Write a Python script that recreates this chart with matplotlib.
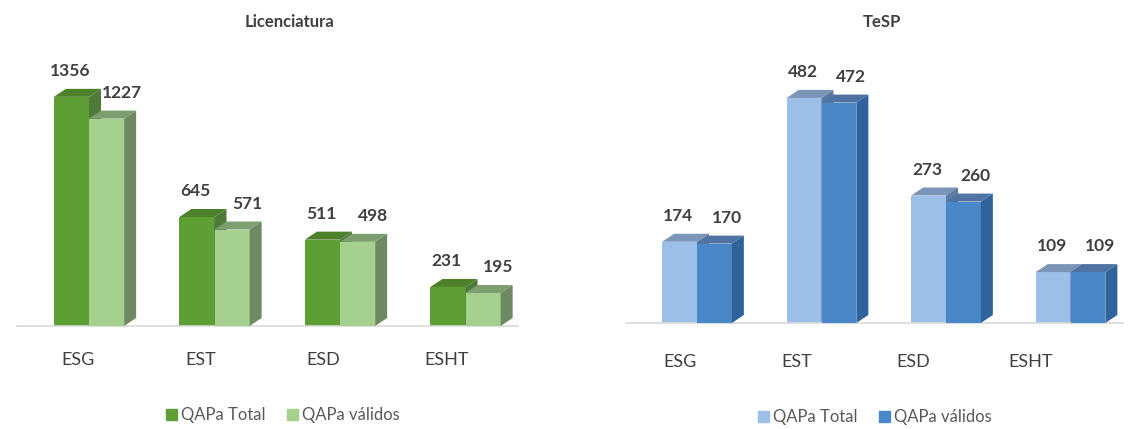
import matplotlib.pyplot as plt
from matplotlib.patches import Polygon
import numpy as np

plt.rcParams['font.family'] = ['Lato', 'DejaVu Sans']

schools = ['ESG', 'EST', 'ESD', 'ESHT']
series_names = ['QAPa Total', 'QAPa válidos']

lic_total = [1356, 645, 511, 231]
lic_validos = [1227, 571, 498, 195]
tesp_total = [174, 482, 273, 109]
tesp_validos = [170, 472, 260, 109]

W, H = 1140, 429
fig = plt.figure(figsize=(W / 100, H / 100), dpi=100)

BAR_W = 0.28
DEPTH_PX = (12, 8)  # side face width, top face rise, in pixels


def draw_3d_bars(ax, values_list, colors, px_per_unit_x, px_per_unit_y):
  dx = DEPTH_PX[0] / px_per_unit_x
  dy = DEPTH_PX[1] / px_per_unit_y
  x = np.arange(len(schools))
  for k, (vals, (front, top, side)) in enumerate(zip(values_list, colors)):
    xs = x + (k - 0.5) * BAR_W
    ax.bar(xs, vals, width=BAR_W, color=front, edgecolor='none', zorder=2 + k)
    for c, h in zip(xs, vals):
      l, r = c - BAR_W / 2, c + BAR_W / 2
      ax.add_patch(Polygon([(l, h), (r, h), (r + dx, h + dy), (l + dx, h + dy)],
                           closed=True, facecolor=top, edgecolor='none', zorder=2 + k))
      ax.add_patch(Polygon([(r, 0), (r + dx, dy), (r + dx, h + dy), (r, h)],
                           closed=True, facecolor=side, edgecolor='none', zorder=2 + k))
  return x


def setup_panel(center0_px, unit_x, base_px, unit_y, values_list, colors,
                title, title_x, legend_x, cat_top, legend_y, label_dx, tick_fix):
  xlim = (-0.6, 3.45)
  ax_left = center0_px + xlim[0] * unit_x
  ax_w = (xlim[1] - xlim[0]) * unit_x
  top_px = 60
  ax = fig.add_axes([ax_left / W, 1 - base_px / H, ax_w / W, (base_px - top_px) / H])
  ax.set_xlim(*xlim)
  ax.set_ylim(0, (base_px - top_px) / unit_y)
  x = draw_3d_bars(ax, values_list, colors, unit_x, unit_y)
  for s in ['top', 'right', 'left']:
    ax.spines[s].set_visible(False)
  ax.spines['bottom'].set_color('#d9d9d9')
  ax.spines['bottom'].set_linewidth(1.2)
  ax.spines['bottom'].set_bounds(xlim[0] + 0.03, xlim[1] - 0.03)
  ax.set_yticks([])
  # category labels sit slightly left of the bars (perspective of the 3D chart)
  ax.set_xticks(x * tick_fix[0] + tick_fix[1])
  ax.set_xticklabels(schools, fontsize=13, color='#404040')
  ax.tick_params(axis='x', length=0, pad=(cat_top - base_px) * 0.72)
  for k, vals in enumerate(values_list):
    for xi, v in zip(x, vals):
      ax.annotate(str(v), (xi + (k - 0.5) * BAR_W + label_dx[k], v),
                  xytext=(0, 26), textcoords='offset pixels',
                  ha='center', va='center', fontsize=12.5, fontweight='bold',
                  color='#404040')
  fig.text(title_x / W, 1 - 22 / H, title, ha='center', va='center',
           fontsize=12, fontweight='bold', color='#404040')
  handles = [plt.Rectangle((0, 0), 1, 1, color=c[0]) for c in colors]
  fig.legend(handles, series_names, loc='center', bbox_to_anchor=(legend_x / W, 1 - legend_y / H),
             ncol=2, frameon=False, fontsize=12, handlelength=0.65, handleheight=0.65,
             handletextpad=0.25, columnspacing=1.3, labelcolor='#595959')
  return ax


green = [('#5e9f35', '#4c8029', '#4e7a3a'),
         ('#a5d08e', '#7d9e6e', '#6f8a62')]
blue = [('#9cbfe7', '#7b95b8', '#5c7aa3'),
        ('#4a87c8', '#4f74a3', '#30639b')]

setup_panel(89, 125.5, 326, 0.169, [lic_total, lic_validos], green,
            'Licenciatura', 290, 283, 352, 415, (-0.01, 0.12), (0.98, -0.09))
setup_panel(697, 124.5, 323, 0.467, [tesp_total, tesp_validos], blue,
            'TeSP', 882, 875, 354, 417, (-0.01, 0.1), (0.94, -0.14))

fig.savefig('out.png', dpi=100)
